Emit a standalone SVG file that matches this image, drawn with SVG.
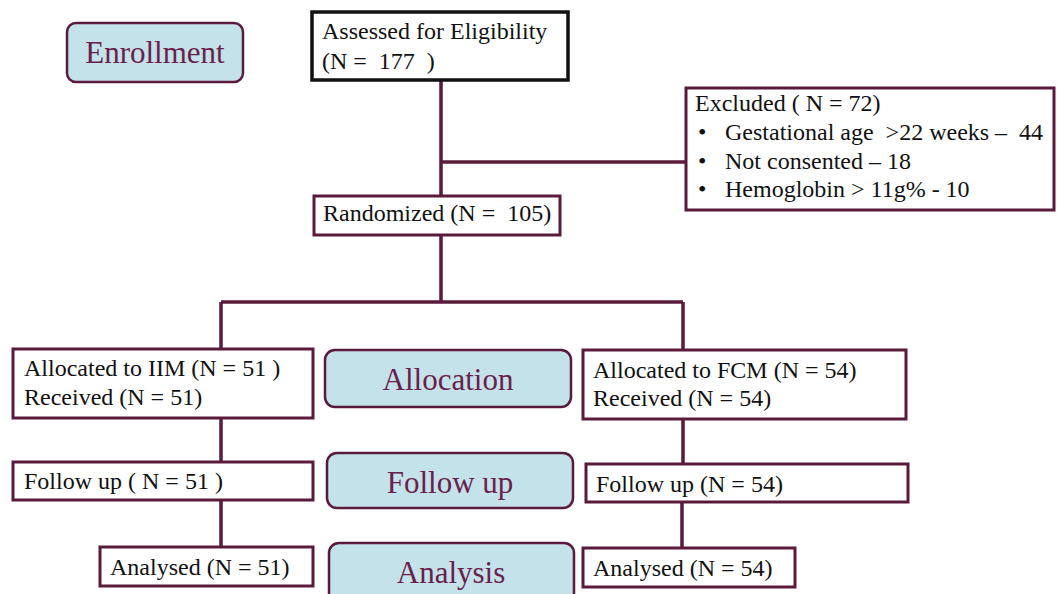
<svg xmlns="http://www.w3.org/2000/svg" width="1057" height="594" viewBox="0 0 1057 594" xml:space="preserve">
<style>
.box{fill:#ffffff;stroke:#5a1a3c;stroke-width:3}
.blk{fill:#ffffff;stroke:#111111;stroke-width:3.5}
.lbl{fill:#c3e2ea;stroke:#5a1a3c;stroke-width:2.5}
.t{font-family:"Liberation Serif","Times New Roman",serif;font-size:24px;fill:#111111;white-space:pre}
.lt{font-family:"Liberation Serif","Times New Roman",serif;font-size:31px;fill:#6b1f4c;text-anchor:middle}
.ln{fill:none;stroke:#5a1a3c;stroke-width:3.5}
</style>
<rect width="1057" height="594" fill="#ffffff"/>
<g id="connectors">
<path class="ln" d="M441 80V196"/>
<path class="ln" d="M441 162H687"/>
<path class="ln" d="M441 235V302M221 302H683M221 302V349M683 302V350"/>
<path class="ln" d="M221 418V462M221 500V547"/>
<path class="ln" d="M683 419V464M682 502V548"/>
</g>
<g id="enrollment">
<rect class="lbl" x="67" y="23" width="176" height="59" rx="9"/>
<text class="lt" x="155" y="63">Enrollment</text>
</g>
<g id="assessed">
<rect class="blk" x="312" y="12" width="256" height="68"/>
<text class="t" x="322" y="39">Assessed for Eligibility</text>
<text class="t" x="322" y="69">(N =  177  )</text>
</g>
<g id="excluded">
<rect class="box" x="686" y="88" width="368" height="122"/>
<text class="t" x="695" y="111">Excluded ( N = 72)</text>
<text class="t" x="698" y="140">•</text>
<text class="t" x="725" y="140">Gestational age  &gt;22 weeks –  44</text>
<text class="t" x="698" y="169">•</text>
<text class="t" x="725" y="169">Not consented – 18</text>
<text class="t" x="698" y="197">•</text>
<text class="t" x="725" y="197">Hemoglobin &gt; 11g% - 10</text>
</g>
<g id="randomized">
<rect class="box" x="314" y="196" width="246" height="39"/>
<text class="t" x="323" y="221">Randomized (N =  105)</text>
</g>
<g id="alloc-iim">
<rect class="box" x="13" y="349" width="300" height="69"/>
<text class="t" x="24" y="376">Allocated to IIM (N = 51 )</text>
<text class="t" x="24" y="405">Received (N = 51)</text>
</g>
<g id="allocation">
<rect class="lbl" x="325" y="350" width="246" height="57" rx="10"/>
<text class="lt" x="448" y="390">Allocation</text>
</g>
<g id="alloc-fcm">
<rect class="box" x="583" y="350" width="323" height="69"/>
<text class="t" x="593" y="378">Allocated to FCM (N = 54)</text>
<text class="t" x="593" y="406">Received (N = 54)</text>
</g>
<g id="follow-iim">
<rect class="box" x="13" y="462" width="300" height="38"/>
<text class="t" x="24" y="489">Follow up ( N = 51 )</text>
</g>
<g id="followup">
<rect class="lbl" x="327" y="453" width="246" height="55" rx="10"/>
<text class="lt" x="450" y="493">Follow up</text>
</g>
<g id="follow-fcm">
<rect class="box" x="586" y="464" width="322" height="38"/>
<text class="t" x="596" y="492">Follow up (N = 54)</text>
</g>
<g id="analysed-iim">
<rect class="box" x="100" y="547" width="213" height="39"/>
<text class="t" x="110" y="575">Analysed (N = 51)</text>
</g>
<g id="analysis">
<rect class="lbl" x="329" y="543" width="245" height="70" rx="10"/>
<text class="lt" x="451" y="583">Analysis</text>
</g>
<g id="analysed-fcm">
<rect class="box" x="583" y="548" width="212" height="39"/>
<text class="t" x="593" y="576">Analysed (N = 54)</text>
</g>
</svg>
